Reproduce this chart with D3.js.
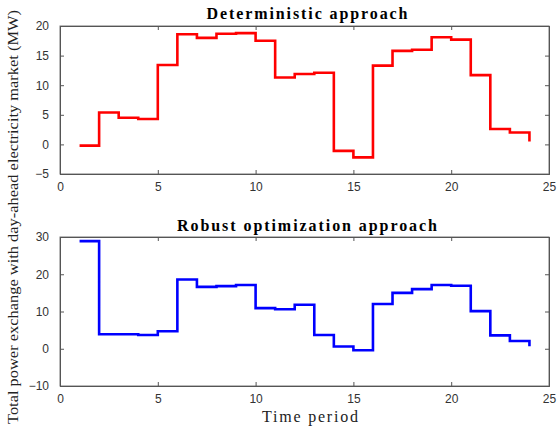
<!DOCTYPE html>
<html>
<head>
<meta charset="utf-8">
<script src="https://cdn.jsdelivr.net/npm/d3@7"></script>
<style>
  html, body { margin: 0; padding: 0; background: #fff; }
  svg { display: block; }
</style>
</head>
<body>
<svg id="chart" width="558" height="430"></svg>
<script>
const periods = [1,2,3,4,5,6,7,8,9,10,11,12,13,14,15,16,17,18,19,20,21,22,23,24];
const deterministic = [-0.2,5.4,4.5,4.3,13.4,18.6,18.0,18.7,18.8,17.5,11.3,11.9,12.1,-1.1,-2.2,13.3,15.8,16.0,18.1,17.7,11.7,2.6,2.0,0.5];
const robust = [28.9,3.9,3.9,3.7,4.7,18.6,16.6,16.8,17.1,10.9,10.6,11.8,3.7,0.6,-0.4,12.0,15.0,16.0,17.1,16.9,10.1,3.6,2.1,0.7];
const xTicks = [0,5,10,15,20,25];
const yTicksTop = [-5,0,5,10,15,20];
const yTicksBottom = [-10,0,10,20,30];
const titles = ["Deterministic approach", "Robust optimization approach"];
const xLabel = "Time period";
const yLabel = "Total power exchange with day-ahead electricity market (MW)";

const svg = d3.select("#chart");
const left = 60, right = 549;
const x = d3.scaleLinear().domain([0,25]).range([left, right]);

const panels = [
  {data: deterministic, color: "#ff0000", yDomain: [-5,20], top: 26, bottom: 174, ticks: yTicksTop, title: titles[0], titleY: 13, titleLen: 201},
  {data: robust, color: "#0000ff", yDomain: [-10,30], top: 237, bottom: 386, ticks: yTicksBottom, title: titles[1], titleY: 225, titleLen: 260}
];

const axisColor = "#555";
panels.forEach(p => {
  const y = d3.scaleLinear().domain(p.yDomain).range([p.bottom, p.top]);
  const g = svg.append("g");

  g.append("rect").attr("x", left).attr("y", p.top)
    .attr("width", right - left).attr("height", p.bottom - p.top)
    .attr("fill", "none").attr("stroke", "#777").attr("stroke-width", 1);

  const ax = g.append("g").attr("transform", `translate(0,${p.bottom})`)
    .call(d3.axisBottom(x).tickValues(xTicks).tickSize(-4).tickPadding(8).tickFormat(d3.format("d")));
  const ay = g.append("g").attr("transform", `translate(${left},0)`)
    .call(d3.axisLeft(y).tickValues(p.ticks).tickSize(-4).tickPadding(11).tickFormat(d3.format("d")));
  const at = g.append("g").attr("transform", `translate(0,${p.top})`)
    .call(d3.axisTop(x).tickValues(xTicks).tickSize(-4).tickFormat(""));
  const ar = g.append("g").attr("transform", `translate(${right},0)`)
    .call(d3.axisRight(y).tickValues(p.ticks).tickSize(-4).tickFormat(""));

  [ax, ay, at, ar].forEach(a => {
    a.select(".domain").attr("stroke", axisColor);
    a.selectAll(".tick line").attr("stroke", axisColor);
    a.selectAll("text").attr("font-family", "'Liberation Sans', Arial, sans-serif")
      .attr("font-size", 12).attr("fill", "#333");
  });

  const line = d3.line().x((d,i) => x(periods[i])).y(d => y(d)).curve(d3.curveStepAfter);
  g.append("path").datum(p.data).attr("d", line)
    .attr("fill", "none").attr("stroke", p.color).attr("stroke-width", 2.6)
    .attr("stroke-linejoin", "miter");

  g.append("text").attr("x", 307).attr("y", p.titleY).attr("dy", "0.35em")
    .attr("text-anchor", "middle")
    .attr("font-family", "'Liberation Serif', 'Times New Roman', serif")
    .attr("font-weight", "bold").attr("font-size", 16)
    .attr("textLength", p.titleLen).attr("lengthAdjust", "spacing")
    .attr("fill", "#000").text(p.title);
});

svg.append("text").attr("x", 310).attr("y", 416).attr("dy", "0.35em")
  .attr("text-anchor", "middle")
  .attr("font-family", "'Liberation Serif', 'Times New Roman', serif")
  .attr("font-size", 16).attr("fill", "#222")
  .attr("textLength", 96).attr("lengthAdjust", "spacing")
  .text(xLabel);

svg.append("text")
  .attr("transform", "translate(13,217) rotate(-90)")
  .attr("dy", "0.35em").attr("text-anchor", "middle")
  .attr("font-family", "'Liberation Serif', 'Times New Roman', serif")
  .attr("font-size", 15).attr("fill", "#222")
  .attr("textLength", 414).attr("lengthAdjust", "spacingAndGlyphs")
  .text(yLabel);
</script>
</body>
</html>
